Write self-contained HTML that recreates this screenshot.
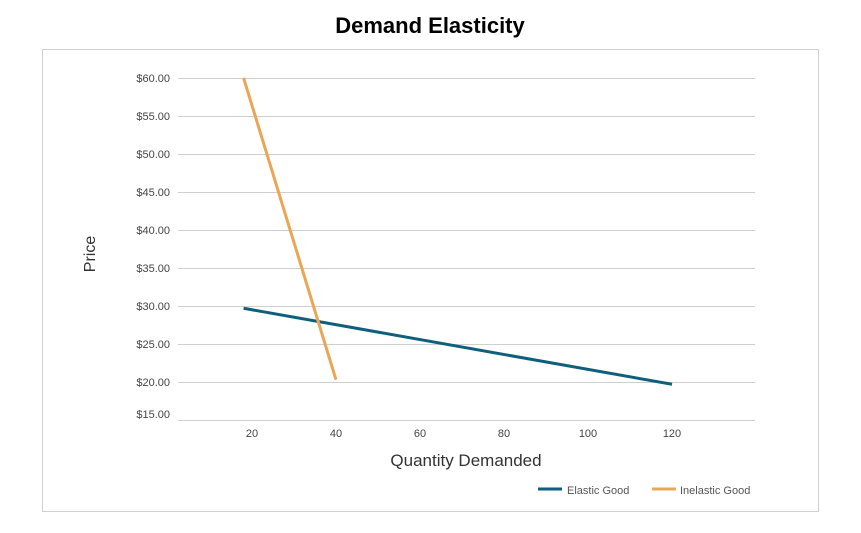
<!DOCTYPE html>
<html><head><meta charset="utf-8"><style>
body{margin:0;background:#fff;font-family:"Liberation Sans",sans-serif;}
</style></head><body>
<svg width="861" height="528" xmlns="http://www.w3.org/2000/svg" id="svg">
<text x="430" y="33" text-anchor="middle" font-size="22" font-weight="bold" fill="#000">Demand Elasticity</text>
<rect x="42.5" y="49.5" width="776" height="462" fill="none" stroke="#d0d0d0"/>
<g id="grid"></g><g id="series"></g>
<text transform="translate(95,254) rotate(-90)" text-anchor="middle" font-size="16" fill="#333">Price</text>
<text x="466" y="466" text-anchor="middle" font-size="17" fill="#333">Quantity Demanded</text>
<g>
<line x1="538" y1="489" x2="562" y2="489" stroke="#0e5f7c" stroke-width="3"/>
<text x="567" y="494" font-size="11" fill="#555">Elastic Good</text>
<line x1="652" y1="489" x2="676" y2="489" stroke="#e9a654" stroke-width="3"/>
<text x="680" y="494" font-size="11" fill="#555">Inelastic Good</text>
</g>
</svg>
<script>
const yTicks=[15,20,25,30,35,40,45,50,55,60];
const xTicks=[20,40,60,80,100,120];
const elasticQ=[18,120];
const elasticP=[29.7,19.7];
const inelasticQ=[18,40];
const inelasticP=[60,20.3];
const NS="http://www.w3.org/2000/svg";
function xs(q){return 168+q*4.2;}
function ys(p){return 382-(p-20)*7.6;}
const grid=document.getElementById('grid'),ser=document.getElementById('series');
yTicks.forEach(v=>{
 const l=document.createElementNS(NS,'line');
 
 
 l.setAttribute('x1',178);l.setAttribute('x2',755);
 l.setAttribute('y1',ys(v)+0.5);l.setAttribute('y2',ys(v)+0.5);
 l.setAttribute('stroke','#cfcfcf');grid.appendChild(l);
 const t=document.createElementNS(NS,'text');
 
 
 t.setAttribute('x',170);t.setAttribute('y',ys(v)+4-(v===15?6:0));
 t.setAttribute('text-anchor','end');t.setAttribute('font-size','11');t.setAttribute('fill','#444');
 t.textContent='$'+v.toFixed(2);grid.appendChild(t);
});
xTicks.forEach(v=>{
 const t=document.createElementNS(NS,'text');
 
 
 t.setAttribute('x',xs(v));t.setAttribute('y',437);
 t.setAttribute('text-anchor','middle');t.setAttribute('font-size','11');t.setAttribute('fill','#444');
 t.textContent=v;grid.appendChild(t);
});
function line(q,p,c,n){
 const pl=document.createElementNS(NS,'polyline');
 
 
 pl.setAttribute('points',q.map((v,i)=>xs(v)+','+ys(p[i])).join(' '));
 pl.setAttribute('fill','none');pl.setAttribute('stroke',c);pl.setAttribute('stroke-width','3');
 ser.appendChild(pl);
}
line(elasticQ,elasticP,'#0e5f7c','elastic-good-line');
line(inelasticQ,inelasticP,'#e9a654','inelastic-good-line');
</script>
</body></html>
